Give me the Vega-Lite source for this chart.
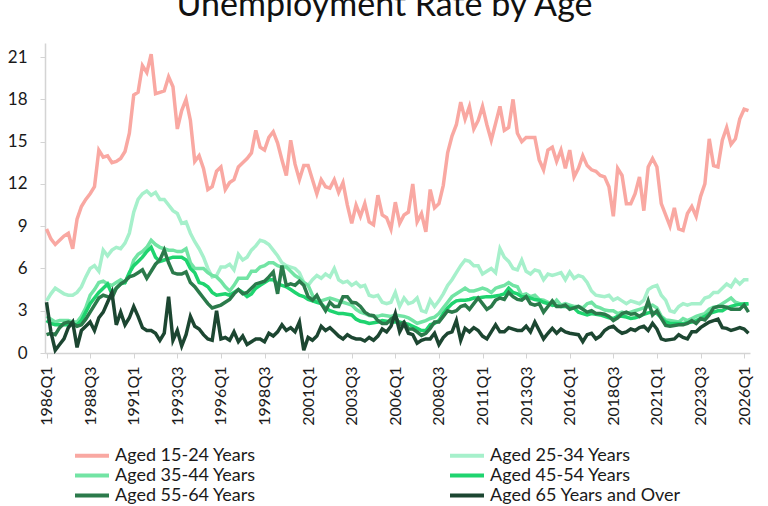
{
  "$schema": "https://vega.github.io/schema/vega-lite/v6.json",
  "description": "Unemployment rate by age group, quarterly",
  "width": 705,
  "height": 310,
  "autosize": {"type": "none"},
  "padding": {"left": 45, "top": 43, "right": 18, "bottom": 153},
  "background": "#ffffff",
  "config": {"view": {"stroke": null}, "font": "Lato"},
  "title": {
    "text": "Unemployment Rate by Age",
    "fontSize": 34,
    "fontWeight": "normal",
    "color": "#111111",
    "anchor": "middle",
    "dx": -13,
    "offset": -7,
    "baseline": "alphabetic"
  },
  "data": {
    "values": [
      {"quarter":"1986Q1","age":"Aged 15-24 Years","rate":8.8},{"quarter":"1986Q2","age":"Aged 15-24 Years","rate":8.1},{"quarter":"1986Q3","age":"Aged 15-24 Years","rate":7.7},{"quarter":"1986Q4","age":"Aged 15-24 Years","rate":8.0},
      {"quarter":"1987Q1","age":"Aged 15-24 Years","rate":8.3},{"quarter":"1987Q2","age":"Aged 15-24 Years","rate":8.5},{"quarter":"1987Q3","age":"Aged 15-24 Years","rate":7.4},{"quarter":"1987Q4","age":"Aged 15-24 Years","rate":9.5},
      {"quarter":"1988Q1","age":"Aged 15-24 Years","rate":10.4},{"quarter":"1988Q2","age":"Aged 15-24 Years","rate":10.9},{"quarter":"1988Q3","age":"Aged 15-24 Years","rate":11.3},{"quarter":"1988Q4","age":"Aged 15-24 Years","rate":11.8},
      {"quarter":"1989Q1","age":"Aged 15-24 Years","rate":14.4},{"quarter":"1989Q2","age":"Aged 15-24 Years","rate":13.9},{"quarter":"1989Q3","age":"Aged 15-24 Years","rate":14.0},{"quarter":"1989Q4","age":"Aged 15-24 Years","rate":13.5},
      {"quarter":"1990Q1","age":"Aged 15-24 Years","rate":13.6},{"quarter":"1990Q2","age":"Aged 15-24 Years","rate":13.8},{"quarter":"1990Q3","age":"Aged 15-24 Years","rate":14.3},{"quarter":"1990Q4","age":"Aged 15-24 Years","rate":15.6},
      {"quarter":"1991Q1","age":"Aged 15-24 Years","rate":18.3},{"quarter":"1991Q2","age":"Aged 15-24 Years","rate":18.5},{"quarter":"1991Q3","age":"Aged 15-24 Years","rate":20.4},{"quarter":"1991Q4","age":"Aged 15-24 Years","rate":19.9},
      {"quarter":"1992Q1","age":"Aged 15-24 Years","rate":21.2},{"quarter":"1992Q2","age":"Aged 15-24 Years","rate":18.4},{"quarter":"1992Q3","age":"Aged 15-24 Years","rate":18.5},{"quarter":"1992Q4","age":"Aged 15-24 Years","rate":18.6},
      {"quarter":"1993Q1","age":"Aged 15-24 Years","rate":19.6},{"quarter":"1993Q2","age":"Aged 15-24 Years","rate":18.9},{"quarter":"1993Q3","age":"Aged 15-24 Years","rate":15.9},{"quarter":"1993Q4","age":"Aged 15-24 Years","rate":17.2},
      {"quarter":"1994Q1","age":"Aged 15-24 Years","rate":18.0},{"quarter":"1994Q2","age":"Aged 15-24 Years","rate":16.5},{"quarter":"1994Q3","age":"Aged 15-24 Years","rate":13.6},{"quarter":"1994Q4","age":"Aged 15-24 Years","rate":14.0},
      {"quarter":"1995Q1","age":"Aged 15-24 Years","rate":13.1},{"quarter":"1995Q2","age":"Aged 15-24 Years","rate":11.6},{"quarter":"1995Q3","age":"Aged 15-24 Years","rate":11.8},{"quarter":"1995Q4","age":"Aged 15-24 Years","rate":12.9},
      {"quarter":"1996Q1","age":"Aged 15-24 Years","rate":13.2},{"quarter":"1996Q2","age":"Aged 15-24 Years","rate":11.6},{"quarter":"1996Q3","age":"Aged 15-24 Years","rate":12.1},{"quarter":"1996Q4","age":"Aged 15-24 Years","rate":12.3},
      {"quarter":"1997Q1","age":"Aged 15-24 Years","rate":13.2},{"quarter":"1997Q2","age":"Aged 15-24 Years","rate":13.5},{"quarter":"1997Q3","age":"Aged 15-24 Years","rate":13.8},{"quarter":"1997Q4","age":"Aged 15-24 Years","rate":14.2},
      {"quarter":"1998Q1","age":"Aged 15-24 Years","rate":15.8},{"quarter":"1998Q2","age":"Aged 15-24 Years","rate":14.6},{"quarter":"1998Q3","age":"Aged 15-24 Years","rate":14.4},{"quarter":"1998Q4","age":"Aged 15-24 Years","rate":15.3},
      {"quarter":"1999Q1","age":"Aged 15-24 Years","rate":15.7},{"quarter":"1999Q2","age":"Aged 15-24 Years","rate":14.9},{"quarter":"1999Q3","age":"Aged 15-24 Years","rate":13.7},{"quarter":"1999Q4","age":"Aged 15-24 Years","rate":12.6},
      {"quarter":"2000Q1","age":"Aged 15-24 Years","rate":15.1},{"quarter":"2000Q2","age":"Aged 15-24 Years","rate":13.4},{"quarter":"2000Q3","age":"Aged 15-24 Years","rate":12.3},{"quarter":"2000Q4","age":"Aged 15-24 Years","rate":13.3},
      {"quarter":"2001Q1","age":"Aged 15-24 Years","rate":13.3},{"quarter":"2001Q2","age":"Aged 15-24 Years","rate":12.3},{"quarter":"2001Q3","age":"Aged 15-24 Years","rate":11.3},{"quarter":"2001Q4","age":"Aged 15-24 Years","rate":12.3},
      {"quarter":"2002Q1","age":"Aged 15-24 Years","rate":11.8},{"quarter":"2002Q2","age":"Aged 15-24 Years","rate":11.7},{"quarter":"2002Q3","age":"Aged 15-24 Years","rate":12.3},{"quarter":"2002Q4","age":"Aged 15-24 Years","rate":11.4},
      {"quarter":"2003Q1","age":"Aged 15-24 Years","rate":12.1},{"quarter":"2003Q2","age":"Aged 15-24 Years","rate":10.5},{"quarter":"2003Q3","age":"Aged 15-24 Years","rate":9.2},{"quarter":"2003Q4","age":"Aged 15-24 Years","rate":10.5},
      {"quarter":"2004Q1","age":"Aged 15-24 Years","rate":9.7},{"quarter":"2004Q2","age":"Aged 15-24 Years","rate":10.6},{"quarter":"2004Q3","age":"Aged 15-24 Years","rate":9.3},{"quarter":"2004Q4","age":"Aged 15-24 Years","rate":9.1},
      {"quarter":"2005Q1","age":"Aged 15-24 Years","rate":11.2},{"quarter":"2005Q2","age":"Aged 15-24 Years","rate":9.8},{"quarter":"2005Q3","age":"Aged 15-24 Years","rate":9.6},{"quarter":"2005Q4","age":"Aged 15-24 Years","rate":8.8},
      {"quarter":"2006Q1","age":"Aged 15-24 Years","rate":10.7},{"quarter":"2006Q2","age":"Aged 15-24 Years","rate":9.2},{"quarter":"2006Q3","age":"Aged 15-24 Years","rate":9.8},{"quarter":"2006Q4","age":"Aged 15-24 Years","rate":10.0},
      {"quarter":"2007Q1","age":"Aged 15-24 Years","rate":12.0},{"quarter":"2007Q2","age":"Aged 15-24 Years","rate":9.3},{"quarter":"2007Q3","age":"Aged 15-24 Years","rate":9.9},{"quarter":"2007Q4","age":"Aged 15-24 Years","rate":8.6},
      {"quarter":"2008Q1","age":"Aged 15-24 Years","rate":11.6},{"quarter":"2008Q2","age":"Aged 15-24 Years","rate":10.3},{"quarter":"2008Q3","age":"Aged 15-24 Years","rate":10.6},{"quarter":"2008Q4","age":"Aged 15-24 Years","rate":11.9},
      {"quarter":"2009Q1","age":"Aged 15-24 Years","rate":14.2},{"quarter":"2009Q2","age":"Aged 15-24 Years","rate":15.4},{"quarter":"2009Q3","age":"Aged 15-24 Years","rate":16.2},{"quarter":"2009Q4","age":"Aged 15-24 Years","rate":17.8},
      {"quarter":"2010Q1","age":"Aged 15-24 Years","rate":16.6},{"quarter":"2010Q2","age":"Aged 15-24 Years","rate":17.5},{"quarter":"2010Q3","age":"Aged 15-24 Years","rate":15.9},{"quarter":"2010Q4","age":"Aged 15-24 Years","rate":16.5},
      {"quarter":"2011Q1","age":"Aged 15-24 Years","rate":17.5},{"quarter":"2011Q2","age":"Aged 15-24 Years","rate":16.2},{"quarter":"2011Q3","age":"Aged 15-24 Years","rate":15.1},{"quarter":"2011Q4","age":"Aged 15-24 Years","rate":16.3},
      {"quarter":"2012Q1","age":"Aged 15-24 Years","rate":17.5},{"quarter":"2012Q2","age":"Aged 15-24 Years","rate":15.8},{"quarter":"2012Q3","age":"Aged 15-24 Years","rate":16.0},{"quarter":"2012Q4","age":"Aged 15-24 Years","rate":18.0},
      {"quarter":"2013Q1","age":"Aged 15-24 Years","rate":15.6},{"quarter":"2013Q2","age":"Aged 15-24 Years","rate":15.0},{"quarter":"2013Q3","age":"Aged 15-24 Years","rate":15.3},{"quarter":"2013Q4","age":"Aged 15-24 Years","rate":15.3},
      {"quarter":"2014Q1","age":"Aged 15-24 Years","rate":15.3},{"quarter":"2014Q2","age":"Aged 15-24 Years","rate":13.7},{"quarter":"2014Q3","age":"Aged 15-24 Years","rate":13.0},{"quarter":"2014Q4","age":"Aged 15-24 Years","rate":14.4},
      {"quarter":"2015Q1","age":"Aged 15-24 Years","rate":14.6},{"quarter":"2015Q2","age":"Aged 15-24 Years","rate":13.6},{"quarter":"2015Q3","age":"Aged 15-24 Years","rate":14.4},{"quarter":"2015Q4","age":"Aged 15-24 Years","rate":13.1},
      {"quarter":"2016Q1","age":"Aged 15-24 Years","rate":14.4},{"quarter":"2016Q2","age":"Aged 15-24 Years","rate":12.5},{"quarter":"2016Q3","age":"Aged 15-24 Years","rate":13.1},{"quarter":"2016Q4","age":"Aged 15-24 Years","rate":14.0},
      {"quarter":"2017Q1","age":"Aged 15-24 Years","rate":13.3},{"quarter":"2017Q2","age":"Aged 15-24 Years","rate":13.0},{"quarter":"2017Q3","age":"Aged 15-24 Years","rate":12.9},{"quarter":"2017Q4","age":"Aged 15-24 Years","rate":12.6},
      {"quarter":"2018Q1","age":"Aged 15-24 Years","rate":12.5},{"quarter":"2018Q2","age":"Aged 15-24 Years","rate":11.8},{"quarter":"2018Q3","age":"Aged 15-24 Years","rate":9.7},{"quarter":"2018Q4","age":"Aged 15-24 Years","rate":13.1},
      {"quarter":"2019Q1","age":"Aged 15-24 Years","rate":12.6},{"quarter":"2019Q2","age":"Aged 15-24 Years","rate":10.6},{"quarter":"2019Q3","age":"Aged 15-24 Years","rate":10.6},{"quarter":"2019Q4","age":"Aged 15-24 Years","rate":11.3},
      {"quarter":"2020Q1","age":"Aged 15-24 Years","rate":12.5},{"quarter":"2020Q2","age":"Aged 15-24 Years","rate":10.1},{"quarter":"2020Q3","age":"Aged 15-24 Years","rate":13.2},{"quarter":"2020Q4","age":"Aged 15-24 Years","rate":13.8},
      {"quarter":"2021Q1","age":"Aged 15-24 Years","rate":13.2},{"quarter":"2021Q2","age":"Aged 15-24 Years","rate":10.6},{"quarter":"2021Q3","age":"Aged 15-24 Years","rate":9.8},{"quarter":"2021Q4","age":"Aged 15-24 Years","rate":9.0},
      {"quarter":"2022Q1","age":"Aged 15-24 Years","rate":10.3},{"quarter":"2022Q2","age":"Aged 15-24 Years","rate":8.8},{"quarter":"2022Q3","age":"Aged 15-24 Years","rate":8.7},{"quarter":"2022Q4","age":"Aged 15-24 Years","rate":9.9},
      {"quarter":"2023Q1","age":"Aged 15-24 Years","rate":10.4},{"quarter":"2023Q2","age":"Aged 15-24 Years","rate":9.7},{"quarter":"2023Q3","age":"Aged 15-24 Years","rate":11.1},{"quarter":"2023Q4","age":"Aged 15-24 Years","rate":12.0},
      {"quarter":"2024Q1","age":"Aged 15-24 Years","rate":15.2},{"quarter":"2024Q2","age":"Aged 15-24 Years","rate":13.3},{"quarter":"2024Q3","age":"Aged 15-24 Years","rate":13.2},{"quarter":"2024Q4","age":"Aged 15-24 Years","rate":15.1},
      {"quarter":"2025Q1","age":"Aged 15-24 Years","rate":16.0},{"quarter":"2025Q2","age":"Aged 15-24 Years","rate":14.8},{"quarter":"2025Q3","age":"Aged 15-24 Years","rate":15.2},{"quarter":"2025Q4","age":"Aged 15-24 Years","rate":16.6},
      {"quarter":"2026Q1","age":"Aged 15-24 Years","rate":17.3},{"quarter":"2026Q2","age":"Aged 15-24 Years","rate":17.2},

      {"quarter":"1986Q1","age":"Aged 25-34 Years","rate":3.7},{"quarter":"1986Q2","age":"Aged 25-34 Years","rate":4.2},{"quarter":"1986Q3","age":"Aged 25-34 Years","rate":4.6},{"quarter":"1986Q4","age":"Aged 25-34 Years","rate":4.4},
      {"quarter":"1987Q1","age":"Aged 25-34 Years","rate":4.2},{"quarter":"1987Q2","age":"Aged 25-34 Years","rate":4.1},{"quarter":"1987Q3","age":"Aged 25-34 Years","rate":4.1},{"quarter":"1987Q4","age":"Aged 25-34 Years","rate":4.3},
      {"quarter":"1988Q1","age":"Aged 25-34 Years","rate":4.7},{"quarter":"1988Q2","age":"Aged 25-34 Years","rate":5.4},{"quarter":"1988Q3","age":"Aged 25-34 Years","rate":6.0},{"quarter":"1988Q4","age":"Aged 25-34 Years","rate":6.2},
      {"quarter":"1989Q1","age":"Aged 25-34 Years","rate":5.8},{"quarter":"1989Q2","age":"Aged 25-34 Years","rate":7.3},{"quarter":"1989Q3","age":"Aged 25-34 Years","rate":6.9},{"quarter":"1989Q4","age":"Aged 25-34 Years","rate":7.3},
      {"quarter":"1990Q1","age":"Aged 25-34 Years","rate":7.5},{"quarter":"1990Q2","age":"Aged 25-34 Years","rate":7.4},{"quarter":"1990Q3","age":"Aged 25-34 Years","rate":7.8},{"quarter":"1990Q4","age":"Aged 25-34 Years","rate":8.5},
      {"quarter":"1991Q1","age":"Aged 25-34 Years","rate":10.0},{"quarter":"1991Q2","age":"Aged 25-34 Years","rate":10.9},{"quarter":"1991Q3","age":"Aged 25-34 Years","rate":11.3},{"quarter":"1991Q4","age":"Aged 25-34 Years","rate":11.5},
      {"quarter":"1992Q1","age":"Aged 25-34 Years","rate":11.2},{"quarter":"1992Q2","age":"Aged 25-34 Years","rate":11.4},{"quarter":"1992Q3","age":"Aged 25-34 Years","rate":10.9},{"quarter":"1992Q4","age":"Aged 25-34 Years","rate":10.9},
      {"quarter":"1993Q1","age":"Aged 25-34 Years","rate":10.5},{"quarter":"1993Q2","age":"Aged 25-34 Years","rate":10.1},{"quarter":"1993Q3","age":"Aged 25-34 Years","rate":9.9},{"quarter":"1993Q4","age":"Aged 25-34 Years","rate":9.2},
      {"quarter":"1994Q1","age":"Aged 25-34 Years","rate":9.3},{"quarter":"1994Q2","age":"Aged 25-34 Years","rate":8.5},{"quarter":"1994Q3","age":"Aged 25-34 Years","rate":7.9},{"quarter":"1994Q4","age":"Aged 25-34 Years","rate":7.4},
      {"quarter":"1995Q1","age":"Aged 25-34 Years","rate":6.8},{"quarter":"1995Q2","age":"Aged 25-34 Years","rate":6.0},{"quarter":"1995Q3","age":"Aged 25-34 Years","rate":5.4},{"quarter":"1995Q4","age":"Aged 25-34 Years","rate":5.5},
      {"quarter":"1996Q1","age":"Aged 25-34 Years","rate":6.1},{"quarter":"1996Q2","age":"Aged 25-34 Years","rate":6.1},{"quarter":"1996Q3","age":"Aged 25-34 Years","rate":6.3},{"quarter":"1996Q4","age":"Aged 25-34 Years","rate":5.9},
      {"quarter":"1997Q1","age":"Aged 25-34 Years","rate":7.0},{"quarter":"1997Q2","age":"Aged 25-34 Years","rate":6.6},{"quarter":"1997Q3","age":"Aged 25-34 Years","rate":6.8},{"quarter":"1997Q4","age":"Aged 25-34 Years","rate":7.3},
      {"quarter":"1998Q1","age":"Aged 25-34 Years","rate":7.6},{"quarter":"1998Q2","age":"Aged 25-34 Years","rate":8.0},{"quarter":"1998Q3","age":"Aged 25-34 Years","rate":7.9},{"quarter":"1998Q4","age":"Aged 25-34 Years","rate":7.7},
      {"quarter":"1999Q1","age":"Aged 25-34 Years","rate":7.3},{"quarter":"1999Q2","age":"Aged 25-34 Years","rate":6.9},{"quarter":"1999Q3","age":"Aged 25-34 Years","rate":6.4},{"quarter":"1999Q4","age":"Aged 25-34 Years","rate":6.2},
      {"quarter":"2000Q1","age":"Aged 25-34 Years","rate":6.1},{"quarter":"2000Q2","age":"Aged 25-34 Years","rate":6.0},{"quarter":"2000Q3","age":"Aged 25-34 Years","rate":5.7},{"quarter":"2000Q4","age":"Aged 25-34 Years","rate":5.0},
      {"quarter":"2001Q1","age":"Aged 25-34 Years","rate":4.8},{"quarter":"2001Q2","age":"Aged 25-34 Years","rate":5.2},{"quarter":"2001Q3","age":"Aged 25-34 Years","rate":5.5},{"quarter":"2001Q4","age":"Aged 25-34 Years","rate":5.3},
      {"quarter":"2002Q1","age":"Aged 25-34 Years","rate":5.6},{"quarter":"2002Q2","age":"Aged 25-34 Years","rate":5.4},{"quarter":"2002Q3","age":"Aged 25-34 Years","rate":6.0},{"quarter":"2002Q4","age":"Aged 25-34 Years","rate":5.2},
      {"quarter":"2003Q1","age":"Aged 25-34 Years","rate":5.0},{"quarter":"2003Q2","age":"Aged 25-34 Years","rate":5.1},{"quarter":"2003Q3","age":"Aged 25-34 Years","rate":4.8},{"quarter":"2003Q4","age":"Aged 25-34 Years","rate":5.0},
      {"quarter":"2004Q1","age":"Aged 25-34 Years","rate":4.7},{"quarter":"2004Q2","age":"Aged 25-34 Years","rate":4.8},{"quarter":"2004Q3","age":"Aged 25-34 Years","rate":4.1},{"quarter":"2004Q4","age":"Aged 25-34 Years","rate":4.0},
      {"quarter":"2005Q1","age":"Aged 25-34 Years","rate":4.1},{"quarter":"2005Q2","age":"Aged 25-34 Years","rate":3.6},{"quarter":"2005Q3","age":"Aged 25-34 Years","rate":3.5},{"quarter":"2005Q4","age":"Aged 25-34 Years","rate":3.6},
      {"quarter":"2006Q1","age":"Aged 25-34 Years","rate":4.3},{"quarter":"2006Q2","age":"Aged 25-34 Years","rate":3.3},{"quarter":"2006Q3","age":"Aged 25-34 Years","rate":3.9},{"quarter":"2006Q4","age":"Aged 25-34 Years","rate":3.5},
      {"quarter":"2007Q1","age":"Aged 25-34 Years","rate":3.6},{"quarter":"2007Q2","age":"Aged 25-34 Years","rate":3.9},{"quarter":"2007Q3","age":"Aged 25-34 Years","rate":3.0},{"quarter":"2007Q4","age":"Aged 25-34 Years","rate":2.9},
      {"quarter":"2008Q1","age":"Aged 25-34 Years","rate":3.75},{"quarter":"2008Q2","age":"Aged 25-34 Years","rate":3.3},{"quarter":"2008Q3","age":"Aged 25-34 Years","rate":3.7},{"quarter":"2008Q4","age":"Aged 25-34 Years","rate":4.2},
      {"quarter":"2009Q1","age":"Aged 25-34 Years","rate":4.8},{"quarter":"2009Q2","age":"Aged 25-34 Years","rate":5.2},{"quarter":"2009Q3","age":"Aged 25-34 Years","rate":5.7},{"quarter":"2009Q4","age":"Aged 25-34 Years","rate":6.2},
      {"quarter":"2010Q1","age":"Aged 25-34 Years","rate":6.6},{"quarter":"2010Q2","age":"Aged 25-34 Years","rate":6.5},{"quarter":"2010Q3","age":"Aged 25-34 Years","rate":6.2},{"quarter":"2010Q4","age":"Aged 25-34 Years","rate":6.2},
      {"quarter":"2011Q1","age":"Aged 25-34 Years","rate":5.6},{"quarter":"2011Q2","age":"Aged 25-34 Years","rate":5.8},{"quarter":"2011Q3","age":"Aged 25-34 Years","rate":6.0},{"quarter":"2011Q4","age":"Aged 25-34 Years","rate":5.7},
      {"quarter":"2012Q1","age":"Aged 25-34 Years","rate":7.4},{"quarter":"2012Q2","age":"Aged 25-34 Years","rate":6.8},{"quarter":"2012Q3","age":"Aged 25-34 Years","rate":6.5},{"quarter":"2012Q4","age":"Aged 25-34 Years","rate":6.0},
      {"quarter":"2013Q1","age":"Aged 25-34 Years","rate":5.9},{"quarter":"2013Q2","age":"Aged 25-34 Years","rate":6.6},{"quarter":"2013Q3","age":"Aged 25-34 Years","rate":5.8},{"quarter":"2013Q4","age":"Aged 25-34 Years","rate":5.6},
      {"quarter":"2014Q1","age":"Aged 25-34 Years","rate":5.9},{"quarter":"2014Q2","age":"Aged 25-34 Years","rate":5.8},{"quarter":"2014Q3","age":"Aged 25-34 Years","rate":5.2},{"quarter":"2014Q4","age":"Aged 25-34 Years","rate":5.6},
      {"quarter":"2015Q1","age":"Aged 25-34 Years","rate":5.5},{"quarter":"2015Q2","age":"Aged 25-34 Years","rate":5.6},{"quarter":"2015Q3","age":"Aged 25-34 Years","rate":5.7},{"quarter":"2015Q4","age":"Aged 25-34 Years","rate":5.2},
      {"quarter":"2016Q1","age":"Aged 25-34 Years","rate":5.75},{"quarter":"2016Q2","age":"Aged 25-34 Years","rate":5.3},{"quarter":"2016Q3","age":"Aged 25-34 Years","rate":5.5},{"quarter":"2016Q4","age":"Aged 25-34 Years","rate":5.4},
      {"quarter":"2017Q1","age":"Aged 25-34 Years","rate":5.0},{"quarter":"2017Q2","age":"Aged 25-34 Years","rate":4.4},{"quarter":"2017Q3","age":"Aged 25-34 Years","rate":4.1},{"quarter":"2017Q4","age":"Aged 25-34 Years","rate":4.05},
      {"quarter":"2018Q1","age":"Aged 25-34 Years","rate":4.0},{"quarter":"2018Q2","age":"Aged 25-34 Years","rate":4.1},{"quarter":"2018Q3","age":"Aged 25-34 Years","rate":3.75},{"quarter":"2018Q4","age":"Aged 25-34 Years","rate":3.9},
      {"quarter":"2019Q1","age":"Aged 25-34 Years","rate":3.7},{"quarter":"2019Q2","age":"Aged 25-34 Years","rate":3.5},{"quarter":"2019Q3","age":"Aged 25-34 Years","rate":3.7},{"quarter":"2019Q4","age":"Aged 25-34 Years","rate":3.6},
      {"quarter":"2020Q1","age":"Aged 25-34 Years","rate":3.5},{"quarter":"2020Q2","age":"Aged 25-34 Years","rate":3.75},{"quarter":"2020Q3","age":"Aged 25-34 Years","rate":4.5},{"quarter":"2020Q4","age":"Aged 25-34 Years","rate":4.7},
      {"quarter":"2021Q1","age":"Aged 25-34 Years","rate":4.8},{"quarter":"2021Q2","age":"Aged 25-34 Years","rate":4.1},{"quarter":"2021Q3","age":"Aged 25-34 Years","rate":3.75},{"quarter":"2021Q4","age":"Aged 25-34 Years","rate":3.0},
      {"quarter":"2022Q1","age":"Aged 25-34 Years","rate":2.9},{"quarter":"2022Q2","age":"Aged 25-34 Years","rate":3.3},{"quarter":"2022Q3","age":"Aged 25-34 Years","rate":3.5},{"quarter":"2022Q4","age":"Aged 25-34 Years","rate":3.4},
      {"quarter":"2023Q1","age":"Aged 25-34 Years","rate":3.5},{"quarter":"2023Q2","age":"Aged 25-34 Years","rate":3.5},{"quarter":"2023Q3","age":"Aged 25-34 Years","rate":3.5},{"quarter":"2023Q4","age":"Aged 25-34 Years","rate":3.9},
      {"quarter":"2024Q1","age":"Aged 25-34 Years","rate":4.0},{"quarter":"2024Q2","age":"Aged 25-34 Years","rate":4.3},{"quarter":"2024Q3","age":"Aged 25-34 Years","rate":4.3},{"quarter":"2024Q4","age":"Aged 25-34 Years","rate":4.6},
      {"quarter":"2025Q1","age":"Aged 25-34 Years","rate":4.9},{"quarter":"2025Q2","age":"Aged 25-34 Years","rate":4.7},{"quarter":"2025Q3","age":"Aged 25-34 Years","rate":5.2},{"quarter":"2025Q4","age":"Aged 25-34 Years","rate":4.9},
      {"quarter":"2026Q1","age":"Aged 25-34 Years","rate":5.2},{"quarter":"2026Q2","age":"Aged 25-34 Years","rate":5.2},

      {"quarter":"1986Q1","age":"Aged 35-44 Years","rate":2.6},{"quarter":"1986Q2","age":"Aged 35-44 Years","rate":2.4},{"quarter":"1986Q3","age":"Aged 35-44 Years","rate":2.2},{"quarter":"1986Q4","age":"Aged 35-44 Years","rate":2.3},
      {"quarter":"1987Q1","age":"Aged 35-44 Years","rate":2.3},{"quarter":"1987Q2","age":"Aged 35-44 Years","rate":2.3},{"quarter":"1987Q3","age":"Aged 35-44 Years","rate":2.2},{"quarter":"1987Q4","age":"Aged 35-44 Years","rate":2.2},
      {"quarter":"1988Q1","age":"Aged 35-44 Years","rate":2.6},{"quarter":"1988Q2","age":"Aged 35-44 Years","rate":3.2},{"quarter":"1988Q3","age":"Aged 35-44 Years","rate":4.1},{"quarter":"1988Q4","age":"Aged 35-44 Years","rate":4.5},
      {"quarter":"1989Q1","age":"Aged 35-44 Years","rate":5.0},{"quarter":"1989Q2","age":"Aged 35-44 Years","rate":5.1},{"quarter":"1989Q3","age":"Aged 35-44 Years","rate":4.9},{"quarter":"1989Q4","age":"Aged 35-44 Years","rate":4.8},
      {"quarter":"1990Q1","age":"Aged 35-44 Years","rate":5.0},{"quarter":"1990Q2","age":"Aged 35-44 Years","rate":5.2},{"quarter":"1990Q3","age":"Aged 35-44 Years","rate":5.0},{"quarter":"1990Q4","age":"Aged 35-44 Years","rate":5.6},
      {"quarter":"1991Q1","age":"Aged 35-44 Years","rate":6.6},{"quarter":"1991Q2","age":"Aged 35-44 Years","rate":7.0},{"quarter":"1991Q3","age":"Aged 35-44 Years","rate":7.2},{"quarter":"1991Q4","age":"Aged 35-44 Years","rate":7.5},
      {"quarter":"1992Q1","age":"Aged 35-44 Years","rate":8.0},{"quarter":"1992Q2","age":"Aged 35-44 Years","rate":7.7},{"quarter":"1992Q3","age":"Aged 35-44 Years","rate":7.5},{"quarter":"1992Q4","age":"Aged 35-44 Years","rate":7.4},
      {"quarter":"1993Q1","age":"Aged 35-44 Years","rate":7.3},{"quarter":"1993Q2","age":"Aged 35-44 Years","rate":7.3},{"quarter":"1993Q3","age":"Aged 35-44 Years","rate":7.2},{"quarter":"1993Q4","age":"Aged 35-44 Years","rate":7.2},
      {"quarter":"1994Q1","age":"Aged 35-44 Years","rate":7.4},{"quarter":"1994Q2","age":"Aged 35-44 Years","rate":6.4},{"quarter":"1994Q3","age":"Aged 35-44 Years","rate":6.0},{"quarter":"1994Q4","age":"Aged 35-44 Years","rate":6.0},
      {"quarter":"1995Q1","age":"Aged 35-44 Years","rate":6.0},{"quarter":"1995Q2","age":"Aged 35-44 Years","rate":5.7},{"quarter":"1995Q3","age":"Aged 35-44 Years","rate":5.5},{"quarter":"1995Q4","age":"Aged 35-44 Years","rate":5.4},
      {"quarter":"1996Q1","age":"Aged 35-44 Years","rate":5.1},{"quarter":"1996Q2","age":"Aged 35-44 Years","rate":4.7},{"quarter":"1996Q3","age":"Aged 35-44 Years","rate":4.4},{"quarter":"1996Q4","age":"Aged 35-44 Years","rate":4.8},
      {"quarter":"1997Q1","age":"Aged 35-44 Years","rate":5.3},{"quarter":"1997Q2","age":"Aged 35-44 Years","rate":5.3},{"quarter":"1997Q3","age":"Aged 35-44 Years","rate":5.3},{"quarter":"1997Q4","age":"Aged 35-44 Years","rate":5.8},
      {"quarter":"1998Q1","age":"Aged 35-44 Years","rate":5.8},{"quarter":"1998Q2","age":"Aged 35-44 Years","rate":6.1},{"quarter":"1998Q3","age":"Aged 35-44 Years","rate":6.2},{"quarter":"1998Q4","age":"Aged 35-44 Years","rate":6.4},
      {"quarter":"1999Q1","age":"Aged 35-44 Years","rate":6.4},{"quarter":"1999Q2","age":"Aged 35-44 Years","rate":6.2},{"quarter":"1999Q3","age":"Aged 35-44 Years","rate":6.1},{"quarter":"1999Q4","age":"Aged 35-44 Years","rate":6.1},
      {"quarter":"2000Q1","age":"Aged 35-44 Years","rate":5.8},{"quarter":"2000Q2","age":"Aged 35-44 Years","rate":5.5},{"quarter":"2000Q3","age":"Aged 35-44 Years","rate":5.3},{"quarter":"2000Q4","age":"Aged 35-44 Years","rate":5.0},
      {"quarter":"2001Q1","age":"Aged 35-44 Years","rate":4.8},{"quarter":"2001Q2","age":"Aged 35-44 Years","rate":4.1},{"quarter":"2001Q3","age":"Aged 35-44 Years","rate":3.7},{"quarter":"2001Q4","age":"Aged 35-44 Years","rate":3.7},
      {"quarter":"2002Q1","age":"Aged 35-44 Years","rate":3.8},{"quarter":"2002Q2","age":"Aged 35-44 Years","rate":3.9},{"quarter":"2002Q3","age":"Aged 35-44 Years","rate":3.8},{"quarter":"2002Q4","age":"Aged 35-44 Years","rate":3.7},
      {"quarter":"2003Q1","age":"Aged 35-44 Years","rate":3.6},{"quarter":"2003Q2","age":"Aged 35-44 Years","rate":3.5},{"quarter":"2003Q3","age":"Aged 35-44 Years","rate":3.4},{"quarter":"2003Q4","age":"Aged 35-44 Years","rate":3.1},
      {"quarter":"2004Q1","age":"Aged 35-44 Years","rate":2.9},{"quarter":"2004Q2","age":"Aged 35-44 Years","rate":2.8},{"quarter":"2004Q3","age":"Aged 35-44 Years","rate":2.65},{"quarter":"2004Q4","age":"Aged 35-44 Years","rate":2.6},
      {"quarter":"2005Q1","age":"Aged 35-44 Years","rate":2.6},{"quarter":"2005Q2","age":"Aged 35-44 Years","rate":2.7},{"quarter":"2005Q3","age":"Aged 35-44 Years","rate":2.65},{"quarter":"2005Q4","age":"Aged 35-44 Years","rate":2.6},
      {"quarter":"2006Q1","age":"Aged 35-44 Years","rate":2.7},{"quarter":"2006Q2","age":"Aged 35-44 Years","rate":2.65},{"quarter":"2006Q3","age":"Aged 35-44 Years","rate":2.6},{"quarter":"2006Q4","age":"Aged 35-44 Years","rate":2.5},
      {"quarter":"2007Q1","age":"Aged 35-44 Years","rate":2.3},{"quarter":"2007Q2","age":"Aged 35-44 Years","rate":2.1},{"quarter":"2007Q3","age":"Aged 35-44 Years","rate":2.2},{"quarter":"2007Q4","age":"Aged 35-44 Years","rate":2.3},
      {"quarter":"2008Q1","age":"Aged 35-44 Years","rate":2.45},{"quarter":"2008Q2","age":"Aged 35-44 Years","rate":2.55},{"quarter":"2008Q3","age":"Aged 35-44 Years","rate":2.8},{"quarter":"2008Q4","age":"Aged 35-44 Years","rate":3.2},
      {"quarter":"2009Q1","age":"Aged 35-44 Years","rate":3.6},{"quarter":"2009Q2","age":"Aged 35-44 Years","rate":4.0},{"quarter":"2009Q3","age":"Aged 35-44 Years","rate":4.2},{"quarter":"2009Q4","age":"Aged 35-44 Years","rate":4.4},
      {"quarter":"2010Q1","age":"Aged 35-44 Years","rate":4.6},{"quarter":"2010Q2","age":"Aged 35-44 Years","rate":4.4},{"quarter":"2010Q3","age":"Aged 35-44 Years","rate":4.4},{"quarter":"2010Q4","age":"Aged 35-44 Years","rate":4.5},
      {"quarter":"2011Q1","age":"Aged 35-44 Years","rate":4.6},{"quarter":"2011Q2","age":"Aged 35-44 Years","rate":4.5},{"quarter":"2011Q3","age":"Aged 35-44 Years","rate":4.3},{"quarter":"2011Q4","age":"Aged 35-44 Years","rate":4.6},
      {"quarter":"2012Q1","age":"Aged 35-44 Years","rate":4.7},{"quarter":"2012Q2","age":"Aged 35-44 Years","rate":4.8},{"quarter":"2012Q3","age":"Aged 35-44 Years","rate":5.0},{"quarter":"2012Q4","age":"Aged 35-44 Years","rate":4.8},
      {"quarter":"2013Q1","age":"Aged 35-44 Years","rate":4.7},{"quarter":"2013Q2","age":"Aged 35-44 Years","rate":4.1},{"quarter":"2013Q3","age":"Aged 35-44 Years","rate":4.2},{"quarter":"2013Q4","age":"Aged 35-44 Years","rate":4.0},
      {"quarter":"2014Q1","age":"Aged 35-44 Years","rate":4.1},{"quarter":"2014Q2","age":"Aged 35-44 Years","rate":3.8},{"quarter":"2014Q3","age":"Aged 35-44 Years","rate":3.75},{"quarter":"2014Q4","age":"Aged 35-44 Years","rate":3.6},
      {"quarter":"2015Q1","age":"Aged 35-44 Years","rate":3.4},{"quarter":"2015Q2","age":"Aged 35-44 Years","rate":3.75},{"quarter":"2015Q3","age":"Aged 35-44 Years","rate":3.4},{"quarter":"2015Q4","age":"Aged 35-44 Years","rate":3.5},
      {"quarter":"2016Q1","age":"Aged 35-44 Years","rate":3.4},{"quarter":"2016Q2","age":"Aged 35-44 Years","rate":3.3},{"quarter":"2016Q3","age":"Aged 35-44 Years","rate":3.3},{"quarter":"2016Q4","age":"Aged 35-44 Years","rate":3.2},
      {"quarter":"2017Q1","age":"Aged 35-44 Years","rate":3.5},{"quarter":"2017Q2","age":"Aged 35-44 Years","rate":3.6},{"quarter":"2017Q3","age":"Aged 35-44 Years","rate":3.3},{"quarter":"2017Q4","age":"Aged 35-44 Years","rate":3.2},
      {"quarter":"2018Q1","age":"Aged 35-44 Years","rate":3.05},{"quarter":"2018Q2","age":"Aged 35-44 Years","rate":3.0},{"quarter":"2018Q3","age":"Aged 35-44 Years","rate":3.0},{"quarter":"2018Q4","age":"Aged 35-44 Years","rate":2.8},
      {"quarter":"2019Q1","age":"Aged 35-44 Years","rate":2.9},{"quarter":"2019Q2","age":"Aged 35-44 Years","rate":2.8},{"quarter":"2019Q3","age":"Aged 35-44 Years","rate":2.9},{"quarter":"2019Q4","age":"Aged 35-44 Years","rate":3.0},
      {"quarter":"2020Q1","age":"Aged 35-44 Years","rate":3.1},{"quarter":"2020Q2","age":"Aged 35-44 Years","rate":3.2},{"quarter":"2020Q3","age":"Aged 35-44 Years","rate":3.3},{"quarter":"2020Q4","age":"Aged 35-44 Years","rate":3.4},
      {"quarter":"2021Q1","age":"Aged 35-44 Years","rate":3.2},{"quarter":"2021Q2","age":"Aged 35-44 Years","rate":2.6},{"quarter":"2021Q3","age":"Aged 35-44 Years","rate":2.35},{"quarter":"2021Q4","age":"Aged 35-44 Years","rate":2.3},
      {"quarter":"2022Q1","age":"Aged 35-44 Years","rate":2.25},{"quarter":"2022Q2","age":"Aged 35-44 Years","rate":2.2},{"quarter":"2022Q3","age":"Aged 35-44 Years","rate":2.45},{"quarter":"2022Q4","age":"Aged 35-44 Years","rate":2.3},
      {"quarter":"2023Q1","age":"Aged 35-44 Years","rate":2.45},{"quarter":"2023Q2","age":"Aged 35-44 Years","rate":2.6},{"quarter":"2023Q3","age":"Aged 35-44 Years","rate":2.7},{"quarter":"2023Q4","age":"Aged 35-44 Years","rate":2.8},
      {"quarter":"2024Q1","age":"Aged 35-44 Years","rate":3.1},{"quarter":"2024Q2","age":"Aged 35-44 Years","rate":3.25},{"quarter":"2024Q3","age":"Aged 35-44 Years","rate":3.3},{"quarter":"2024Q4","age":"Aged 35-44 Years","rate":3.5},
      {"quarter":"2025Q1","age":"Aged 35-44 Years","rate":3.7},{"quarter":"2025Q2","age":"Aged 35-44 Years","rate":3.9},{"quarter":"2025Q3","age":"Aged 35-44 Years","rate":3.6},{"quarter":"2025Q4","age":"Aged 35-44 Years","rate":3.5},
      {"quarter":"2026Q1","age":"Aged 35-44 Years","rate":3.4},{"quarter":"2026Q2","age":"Aged 35-44 Years","rate":3.5},

      {"quarter":"1986Q1","age":"Aged 45-54 Years","rate":2.3},{"quarter":"1986Q2","age":"Aged 45-54 Years","rate":2.1},{"quarter":"1986Q3","age":"Aged 45-54 Years","rate":2.0},{"quarter":"1986Q4","age":"Aged 45-54 Years","rate":2.0},
      {"quarter":"1987Q1","age":"Aged 45-54 Years","rate":2.0},{"quarter":"1987Q2","age":"Aged 45-54 Years","rate":2.0},{"quarter":"1987Q3","age":"Aged 45-54 Years","rate":2.0},{"quarter":"1987Q4","age":"Aged 45-54 Years","rate":2.0},
      {"quarter":"1988Q1","age":"Aged 45-54 Years","rate":2.3},{"quarter":"1988Q2","age":"Aged 45-54 Years","rate":2.9},{"quarter":"1988Q3","age":"Aged 45-54 Years","rate":3.5},{"quarter":"1988Q4","age":"Aged 45-54 Years","rate":3.9},
      {"quarter":"1989Q1","age":"Aged 45-54 Years","rate":4.3},{"quarter":"1989Q2","age":"Aged 45-54 Years","rate":4.6},{"quarter":"1989Q3","age":"Aged 45-54 Years","rate":4.9},{"quarter":"1989Q4","age":"Aged 45-54 Years","rate":4.2},
      {"quarter":"1990Q1","age":"Aged 45-54 Years","rate":4.6},{"quarter":"1990Q2","age":"Aged 45-54 Years","rate":4.9},{"quarter":"1990Q3","age":"Aged 45-54 Years","rate":5.0},{"quarter":"1990Q4","age":"Aged 45-54 Years","rate":5.7},
      {"quarter":"1991Q1","age":"Aged 45-54 Years","rate":6.2},{"quarter":"1991Q2","age":"Aged 45-54 Years","rate":6.5},{"quarter":"1991Q3","age":"Aged 45-54 Years","rate":6.8},{"quarter":"1991Q4","age":"Aged 45-54 Years","rate":7.2},
      {"quarter":"1992Q1","age":"Aged 45-54 Years","rate":7.5},{"quarter":"1992Q2","age":"Aged 45-54 Years","rate":6.8},{"quarter":"1992Q3","age":"Aged 45-54 Years","rate":6.5},{"quarter":"1992Q4","age":"Aged 45-54 Years","rate":6.6},
      {"quarter":"1993Q1","age":"Aged 45-54 Years","rate":6.7},{"quarter":"1993Q2","age":"Aged 45-54 Years","rate":6.8},{"quarter":"1993Q3","age":"Aged 45-54 Years","rate":6.8},{"quarter":"1993Q4","age":"Aged 45-54 Years","rate":6.8},
      {"quarter":"1994Q1","age":"Aged 45-54 Years","rate":6.6},{"quarter":"1994Q2","age":"Aged 45-54 Years","rate":6.0},{"quarter":"1994Q3","age":"Aged 45-54 Years","rate":5.7},{"quarter":"1994Q4","age":"Aged 45-54 Years","rate":5.0},
      {"quarter":"1995Q1","age":"Aged 45-54 Years","rate":4.9},{"quarter":"1995Q2","age":"Aged 45-54 Years","rate":4.7},{"quarter":"1995Q3","age":"Aged 45-54 Years","rate":4.3},{"quarter":"1995Q4","age":"Aged 45-54 Years","rate":4.1},
      {"quarter":"1996Q1","age":"Aged 45-54 Years","rate":4.15},{"quarter":"1996Q2","age":"Aged 45-54 Years","rate":4.2},{"quarter":"1996Q3","age":"Aged 45-54 Years","rate":4.1},{"quarter":"1996Q4","age":"Aged 45-54 Years","rate":4.3},
      {"quarter":"1997Q1","age":"Aged 45-54 Years","rate":4.5},{"quarter":"1997Q2","age":"Aged 45-54 Years","rate":4.3},{"quarter":"1997Q3","age":"Aged 45-54 Years","rate":4.0},{"quarter":"1997Q4","age":"Aged 45-54 Years","rate":4.2},
      {"quarter":"1998Q1","age":"Aged 45-54 Years","rate":4.6},{"quarter":"1998Q2","age":"Aged 45-54 Years","rate":4.8},{"quarter":"1998Q3","age":"Aged 45-54 Years","rate":5.0},{"quarter":"1998Q4","age":"Aged 45-54 Years","rate":5.2},
      {"quarter":"1999Q1","age":"Aged 45-54 Years","rate":5.2},{"quarter":"1999Q2","age":"Aged 45-54 Years","rate":4.9},{"quarter":"1999Q3","age":"Aged 45-54 Years","rate":4.8},{"quarter":"1999Q4","age":"Aged 45-54 Years","rate":4.7},
      {"quarter":"2000Q1","age":"Aged 45-54 Years","rate":4.5},{"quarter":"2000Q2","age":"Aged 45-54 Years","rate":4.3},{"quarter":"2000Q3","age":"Aged 45-54 Years","rate":4.1},{"quarter":"2000Q4","age":"Aged 45-54 Years","rate":4.0},
      {"quarter":"2001Q1","age":"Aged 45-54 Years","rate":3.8},{"quarter":"2001Q2","age":"Aged 45-54 Years","rate":3.7},{"quarter":"2001Q3","age":"Aged 45-54 Years","rate":3.6},{"quarter":"2001Q4","age":"Aged 45-54 Years","rate":3.5},
      {"quarter":"2002Q1","age":"Aged 45-54 Years","rate":3.2},{"quarter":"2002Q2","age":"Aged 45-54 Years","rate":3.0},{"quarter":"2002Q3","age":"Aged 45-54 Years","rate":2.9},{"quarter":"2002Q4","age":"Aged 45-54 Years","rate":2.8},
      {"quarter":"2003Q1","age":"Aged 45-54 Years","rate":2.8},{"quarter":"2003Q2","age":"Aged 45-54 Years","rate":2.75},{"quarter":"2003Q3","age":"Aged 45-54 Years","rate":2.7},{"quarter":"2003Q4","age":"Aged 45-54 Years","rate":2.4},
      {"quarter":"2004Q1","age":"Aged 45-54 Years","rate":2.25},{"quarter":"2004Q2","age":"Aged 45-54 Years","rate":2.2},{"quarter":"2004Q3","age":"Aged 45-54 Years","rate":2.1},{"quarter":"2004Q4","age":"Aged 45-54 Years","rate":2.15},
      {"quarter":"2005Q1","age":"Aged 45-54 Years","rate":2.2},{"quarter":"2005Q2","age":"Aged 45-54 Years","rate":2.3},{"quarter":"2005Q3","age":"Aged 45-54 Years","rate":2.25},{"quarter":"2005Q4","age":"Aged 45-54 Years","rate":2.2},
      {"quarter":"2006Q1","age":"Aged 45-54 Years","rate":2.2},{"quarter":"2006Q2","age":"Aged 45-54 Years","rate":2.2},{"quarter":"2006Q3","age":"Aged 45-54 Years","rate":2.1},{"quarter":"2006Q4","age":"Aged 45-54 Years","rate":2.05},
      {"quarter":"2007Q1","age":"Aged 45-54 Years","rate":1.9},{"quarter":"2007Q2","age":"Aged 45-54 Years","rate":1.75},{"quarter":"2007Q3","age":"Aged 45-54 Years","rate":1.6},{"quarter":"2007Q4","age":"Aged 45-54 Years","rate":1.6},
      {"quarter":"2008Q1","age":"Aged 45-54 Years","rate":2.0},{"quarter":"2008Q2","age":"Aged 45-54 Years","rate":2.1},{"quarter":"2008Q3","age":"Aged 45-54 Years","rate":2.3},{"quarter":"2008Q4","age":"Aged 45-54 Years","rate":2.8},
      {"quarter":"2009Q1","age":"Aged 45-54 Years","rate":3.2},{"quarter":"2009Q2","age":"Aged 45-54 Years","rate":3.5},{"quarter":"2009Q3","age":"Aged 45-54 Years","rate":3.7},{"quarter":"2009Q4","age":"Aged 45-54 Years","rate":3.75},
      {"quarter":"2010Q1","age":"Aged 45-54 Years","rate":3.75},{"quarter":"2010Q2","age":"Aged 45-54 Years","rate":3.8},{"quarter":"2010Q3","age":"Aged 45-54 Years","rate":3.9},{"quarter":"2010Q4","age":"Aged 45-54 Years","rate":3.9},
      {"quarter":"2011Q1","age":"Aged 45-54 Years","rate":3.95},{"quarter":"2011Q2","age":"Aged 45-54 Years","rate":4.0},{"quarter":"2011Q3","age":"Aged 45-54 Years","rate":4.0},{"quarter":"2011Q4","age":"Aged 45-54 Years","rate":4.05},
      {"quarter":"2012Q1","age":"Aged 45-54 Years","rate":4.1},{"quarter":"2012Q2","age":"Aged 45-54 Years","rate":4.2},{"quarter":"2012Q3","age":"Aged 45-54 Years","rate":4.6},{"quarter":"2012Q4","age":"Aged 45-54 Years","rate":4.3},
      {"quarter":"2013Q1","age":"Aged 45-54 Years","rate":4.2},{"quarter":"2013Q2","age":"Aged 45-54 Years","rate":4.0},{"quarter":"2013Q3","age":"Aged 45-54 Years","rate":4.0},{"quarter":"2013Q4","age":"Aged 45-54 Years","rate":3.9},
      {"quarter":"2014Q1","age":"Aged 45-54 Years","rate":3.8},{"quarter":"2014Q2","age":"Aged 45-54 Years","rate":3.75},{"quarter":"2014Q3","age":"Aged 45-54 Years","rate":3.6},{"quarter":"2014Q4","age":"Aged 45-54 Years","rate":3.5},
      {"quarter":"2015Q1","age":"Aged 45-54 Years","rate":3.4},{"quarter":"2015Q2","age":"Aged 45-54 Years","rate":3.35},{"quarter":"2015Q3","age":"Aged 45-54 Years","rate":3.3},{"quarter":"2015Q4","age":"Aged 45-54 Years","rate":3.3},
      {"quarter":"2016Q1","age":"Aged 45-54 Years","rate":3.25},{"quarter":"2016Q2","age":"Aged 45-54 Years","rate":3.2},{"quarter":"2016Q3","age":"Aged 45-54 Years","rate":2.9},{"quarter":"2016Q4","age":"Aged 45-54 Years","rate":2.8},
      {"quarter":"2017Q1","age":"Aged 45-54 Years","rate":2.7},{"quarter":"2017Q2","age":"Aged 45-54 Years","rate":2.8},{"quarter":"2017Q3","age":"Aged 45-54 Years","rate":2.75},{"quarter":"2017Q4","age":"Aged 45-54 Years","rate":2.7},
      {"quarter":"2018Q1","age":"Aged 45-54 Years","rate":2.6},{"quarter":"2018Q2","age":"Aged 45-54 Years","rate":2.5},{"quarter":"2018Q3","age":"Aged 45-54 Years","rate":2.45},{"quarter":"2018Q4","age":"Aged 45-54 Years","rate":2.6},
      {"quarter":"2019Q1","age":"Aged 45-54 Years","rate":2.6},{"quarter":"2019Q2","age":"Aged 45-54 Years","rate":2.55},{"quarter":"2019Q3","age":"Aged 45-54 Years","rate":2.45},{"quarter":"2019Q4","age":"Aged 45-54 Years","rate":2.5},
      {"quarter":"2020Q1","age":"Aged 45-54 Years","rate":2.6},{"quarter":"2020Q2","age":"Aged 45-54 Years","rate":2.75},{"quarter":"2020Q3","age":"Aged 45-54 Years","rate":2.85},{"quarter":"2020Q4","age":"Aged 45-54 Years","rate":2.9},
      {"quarter":"2021Q1","age":"Aged 45-54 Years","rate":2.8},{"quarter":"2021Q2","age":"Aged 45-54 Years","rate":2.5},{"quarter":"2021Q3","age":"Aged 45-54 Years","rate":2.2},{"quarter":"2021Q4","age":"Aged 45-54 Years","rate":2.1},
      {"quarter":"2022Q1","age":"Aged 45-54 Years","rate":2.1},{"quarter":"2022Q2","age":"Aged 45-54 Years","rate":2.1},{"quarter":"2022Q3","age":"Aged 45-54 Years","rate":2.1},{"quarter":"2022Q4","age":"Aged 45-54 Years","rate":2.15},
      {"quarter":"2023Q1","age":"Aged 45-54 Years","rate":2.2},{"quarter":"2023Q2","age":"Aged 45-54 Years","rate":2.3},{"quarter":"2023Q3","age":"Aged 45-54 Years","rate":2.45},{"quarter":"2023Q4","age":"Aged 45-54 Years","rate":2.6},
      {"quarter":"2024Q1","age":"Aged 45-54 Years","rate":2.8},{"quarter":"2024Q2","age":"Aged 45-54 Years","rate":2.9},{"quarter":"2024Q3","age":"Aged 45-54 Years","rate":3.0},{"quarter":"2024Q4","age":"Aged 45-54 Years","rate":3.0},
      {"quarter":"2025Q1","age":"Aged 45-54 Years","rate":3.2},{"quarter":"2025Q2","age":"Aged 45-54 Years","rate":3.3},{"quarter":"2025Q3","age":"Aged 45-54 Years","rate":3.4},{"quarter":"2025Q4","age":"Aged 45-54 Years","rate":3.45},
      {"quarter":"2026Q1","age":"Aged 45-54 Years","rate":3.5},{"quarter":"2026Q2","age":"Aged 45-54 Years","rate":3.5},

      {"quarter":"1986Q1","age":"Aged 55-64 Years","rate":1.3},{"quarter":"1986Q2","age":"Aged 55-64 Years","rate":1.4},{"quarter":"1986Q3","age":"Aged 55-64 Years","rate":1.3},{"quarter":"1986Q4","age":"Aged 55-64 Years","rate":1.8},
      {"quarter":"1987Q1","age":"Aged 55-64 Years","rate":2.1},{"quarter":"1987Q2","age":"Aged 55-64 Years","rate":2.2},{"quarter":"1987Q3","age":"Aged 55-64 Years","rate":2.1},{"quarter":"1987Q4","age":"Aged 55-64 Years","rate":1.9},
      {"quarter":"1988Q1","age":"Aged 55-64 Years","rate":2.0},{"quarter":"1988Q2","age":"Aged 55-64 Years","rate":2.4},{"quarter":"1988Q3","age":"Aged 55-64 Years","rate":2.9},{"quarter":"1988Q4","age":"Aged 55-64 Years","rate":3.4},
      {"quarter":"1989Q1","age":"Aged 55-64 Years","rate":3.9},{"quarter":"1989Q2","age":"Aged 55-64 Years","rate":4.1},{"quarter":"1989Q3","age":"Aged 55-64 Years","rate":4.0},{"quarter":"1989Q4","age":"Aged 55-64 Years","rate":3.9},
      {"quarter":"1990Q1","age":"Aged 55-64 Years","rate":4.6},{"quarter":"1990Q2","age":"Aged 55-64 Years","rate":4.9},{"quarter":"1990Q3","age":"Aged 55-64 Years","rate":5.1},{"quarter":"1990Q4","age":"Aged 55-64 Years","rate":5.4},
      {"quarter":"1991Q1","age":"Aged 55-64 Years","rate":5.5},{"quarter":"1991Q2","age":"Aged 55-64 Years","rate":5.7},{"quarter":"1991Q3","age":"Aged 55-64 Years","rate":5.9},{"quarter":"1991Q4","age":"Aged 55-64 Years","rate":5.3},
      {"quarter":"1992Q1","age":"Aged 55-64 Years","rate":5.8},{"quarter":"1992Q2","age":"Aged 55-64 Years","rate":6.3},{"quarter":"1992Q3","age":"Aged 55-64 Years","rate":6.6},{"quarter":"1992Q4","age":"Aged 55-64 Years","rate":7.3},
      {"quarter":"1993Q1","age":"Aged 55-64 Years","rate":6.4},{"quarter":"1993Q2","age":"Aged 55-64 Years","rate":5.7},{"quarter":"1993Q3","age":"Aged 55-64 Years","rate":5.6},{"quarter":"1993Q4","age":"Aged 55-64 Years","rate":5.6},
      {"quarter":"1994Q1","age":"Aged 55-64 Years","rate":5.75},{"quarter":"1994Q2","age":"Aged 55-64 Years","rate":5.0},{"quarter":"1994Q3","age":"Aged 55-64 Years","rate":4.7},{"quarter":"1994Q4","age":"Aged 55-64 Years","rate":4.3},
      {"quarter":"1995Q1","age":"Aged 55-64 Years","rate":3.9},{"quarter":"1995Q2","age":"Aged 55-64 Years","rate":3.5},{"quarter":"1995Q3","age":"Aged 55-64 Years","rate":3.2},{"quarter":"1995Q4","age":"Aged 55-64 Years","rate":3.3},
      {"quarter":"1996Q1","age":"Aged 55-64 Years","rate":3.4},{"quarter":"1996Q2","age":"Aged 55-64 Years","rate":3.6},{"quarter":"1996Q3","age":"Aged 55-64 Years","rate":3.8},{"quarter":"1996Q4","age":"Aged 55-64 Years","rate":4.2},
      {"quarter":"1997Q1","age":"Aged 55-64 Years","rate":4.5},{"quarter":"1997Q2","age":"Aged 55-64 Years","rate":4.2},{"quarter":"1997Q3","age":"Aged 55-64 Years","rate":4.3},{"quarter":"1997Q4","age":"Aged 55-64 Years","rate":4.6},
      {"quarter":"1998Q1","age":"Aged 55-64 Years","rate":4.9},{"quarter":"1998Q2","age":"Aged 55-64 Years","rate":5.0},{"quarter":"1998Q3","age":"Aged 55-64 Years","rate":5.1},{"quarter":"1998Q4","age":"Aged 55-64 Years","rate":5.4},
      {"quarter":"1999Q1","age":"Aged 55-64 Years","rate":5.75},{"quarter":"1999Q2","age":"Aged 55-64 Years","rate":4.2},{"quarter":"1999Q3","age":"Aged 55-64 Years","rate":6.2},{"quarter":"1999Q4","age":"Aged 55-64 Years","rate":4.8},
      {"quarter":"2000Q1","age":"Aged 55-64 Years","rate":4.9},{"quarter":"2000Q2","age":"Aged 55-64 Years","rate":4.8},{"quarter":"2000Q3","age":"Aged 55-64 Years","rate":5.1},{"quarter":"2000Q4","age":"Aged 55-64 Years","rate":4.8},
      {"quarter":"2001Q1","age":"Aged 55-64 Years","rate":4.0},{"quarter":"2001Q2","age":"Aged 55-64 Years","rate":3.75},{"quarter":"2001Q3","age":"Aged 55-64 Years","rate":4.1},{"quarter":"2001Q4","age":"Aged 55-64 Years","rate":3.5},
      {"quarter":"2002Q1","age":"Aged 55-64 Years","rate":3.0},{"quarter":"2002Q2","age":"Aged 55-64 Years","rate":3.6},{"quarter":"2002Q3","age":"Aged 55-64 Years","rate":3.3},{"quarter":"2002Q4","age":"Aged 55-64 Years","rate":3.3},
      {"quarter":"2003Q1","age":"Aged 55-64 Years","rate":4.0},{"quarter":"2003Q2","age":"Aged 55-64 Years","rate":4.0},{"quarter":"2003Q3","age":"Aged 55-64 Years","rate":3.6},{"quarter":"2003Q4","age":"Aged 55-64 Years","rate":3.55},
      {"quarter":"2004Q1","age":"Aged 55-64 Years","rate":3.3},{"quarter":"2004Q2","age":"Aged 55-64 Years","rate":2.9},{"quarter":"2004Q3","age":"Aged 55-64 Years","rate":2.7},{"quarter":"2004Q4","age":"Aged 55-64 Years","rate":2.65},
      {"quarter":"2005Q1","age":"Aged 55-64 Years","rate":2.3},{"quarter":"2005Q2","age":"Aged 55-64 Years","rate":2.1},{"quarter":"2005Q3","age":"Aged 55-64 Years","rate":2.1},{"quarter":"2005Q4","age":"Aged 55-64 Years","rate":2.4},
      {"quarter":"2006Q1","age":"Aged 55-64 Years","rate":2.6},{"quarter":"2006Q2","age":"Aged 55-64 Years","rate":2.0},{"quarter":"2006Q3","age":"Aged 55-64 Years","rate":2.2},{"quarter":"2006Q4","age":"Aged 55-64 Years","rate":1.7},
      {"quarter":"2007Q1","age":"Aged 55-64 Years","rate":1.7},{"quarter":"2007Q2","age":"Aged 55-64 Years","rate":1.5},{"quarter":"2007Q3","age":"Aged 55-64 Years","rate":1.25},{"quarter":"2007Q4","age":"Aged 55-64 Years","rate":1.4},
      {"quarter":"2008Q1","age":"Aged 55-64 Years","rate":1.75},{"quarter":"2008Q2","age":"Aged 55-64 Years","rate":2.2},{"quarter":"2008Q3","age":"Aged 55-64 Years","rate":2.2},{"quarter":"2008Q4","age":"Aged 55-64 Years","rate":2.6},
      {"quarter":"2009Q1","age":"Aged 55-64 Years","rate":3.0},{"quarter":"2009Q2","age":"Aged 55-64 Years","rate":2.9},{"quarter":"2009Q3","age":"Aged 55-64 Years","rate":3.0},{"quarter":"2009Q4","age":"Aged 55-64 Years","rate":3.3},
      {"quarter":"2010Q1","age":"Aged 55-64 Years","rate":3.4},{"quarter":"2010Q2","age":"Aged 55-64 Years","rate":3.1},{"quarter":"2010Q3","age":"Aged 55-64 Years","rate":3.5},{"quarter":"2010Q4","age":"Aged 55-64 Years","rate":3.9},
      {"quarter":"2011Q1","age":"Aged 55-64 Years","rate":3.5},{"quarter":"2011Q2","age":"Aged 55-64 Years","rate":3.1},{"quarter":"2011Q3","age":"Aged 55-64 Years","rate":3.3},{"quarter":"2011Q4","age":"Aged 55-64 Years","rate":3.75},
      {"quarter":"2012Q1","age":"Aged 55-64 Years","rate":3.9},{"quarter":"2012Q2","age":"Aged 55-64 Years","rate":3.8},{"quarter":"2012Q3","age":"Aged 55-64 Years","rate":4.3},{"quarter":"2012Q4","age":"Aged 55-64 Years","rate":4.0},
      {"quarter":"2013Q1","age":"Aged 55-64 Years","rate":3.8},{"quarter":"2013Q2","age":"Aged 55-64 Years","rate":3.75},{"quarter":"2013Q3","age":"Aged 55-64 Years","rate":4.0},{"quarter":"2013Q4","age":"Aged 55-64 Years","rate":3.5},
      {"quarter":"2014Q1","age":"Aged 55-64 Years","rate":3.4},{"quarter":"2014Q2","age":"Aged 55-64 Years","rate":3.5},{"quarter":"2014Q3","age":"Aged 55-64 Years","rate":2.9},{"quarter":"2014Q4","age":"Aged 55-64 Years","rate":3.3},
      {"quarter":"2015Q1","age":"Aged 55-64 Years","rate":3.7},{"quarter":"2015Q2","age":"Aged 55-64 Years","rate":3.3},{"quarter":"2015Q3","age":"Aged 55-64 Years","rate":3.3},{"quarter":"2015Q4","age":"Aged 55-64 Years","rate":3.4},
      {"quarter":"2016Q1","age":"Aged 55-64 Years","rate":3.1},{"quarter":"2016Q2","age":"Aged 55-64 Years","rate":3.2},{"quarter":"2016Q3","age":"Aged 55-64 Years","rate":3.3},{"quarter":"2016Q4","age":"Aged 55-64 Years","rate":3.1},
      {"quarter":"2017Q1","age":"Aged 55-64 Years","rate":2.9},{"quarter":"2017Q2","age":"Aged 55-64 Years","rate":3.0},{"quarter":"2017Q3","age":"Aged 55-64 Years","rate":2.8},{"quarter":"2017Q4","age":"Aged 55-64 Years","rate":2.8},
      {"quarter":"2018Q1","age":"Aged 55-64 Years","rate":2.75},{"quarter":"2018Q2","age":"Aged 55-64 Years","rate":2.6},{"quarter":"2018Q3","age":"Aged 55-64 Years","rate":2.3},{"quarter":"2018Q4","age":"Aged 55-64 Years","rate":2.5},
      {"quarter":"2019Q1","age":"Aged 55-64 Years","rate":2.8},{"quarter":"2019Q2","age":"Aged 55-64 Years","rate":2.9},{"quarter":"2019Q3","age":"Aged 55-64 Years","rate":2.75},{"quarter":"2019Q4","age":"Aged 55-64 Years","rate":2.8},
      {"quarter":"2020Q1","age":"Aged 55-64 Years","rate":2.6},{"quarter":"2020Q2","age":"Aged 55-64 Years","rate":2.8},{"quarter":"2020Q3","age":"Aged 55-64 Years","rate":3.7},{"quarter":"2020Q4","age":"Aged 55-64 Years","rate":2.7},
      {"quarter":"2021Q1","age":"Aged 55-64 Years","rate":3.0},{"quarter":"2021Q2","age":"Aged 55-64 Years","rate":2.45},{"quarter":"2021Q3","age":"Aged 55-64 Years","rate":1.95},{"quarter":"2021Q4","age":"Aged 55-64 Years","rate":1.9},
      {"quarter":"2022Q1","age":"Aged 55-64 Years","rate":1.95},{"quarter":"2022Q2","age":"Aged 55-64 Years","rate":2.0},{"quarter":"2022Q3","age":"Aged 55-64 Years","rate":2.0},{"quarter":"2022Q4","age":"Aged 55-64 Years","rate":2.1},
      {"quarter":"2023Q1","age":"Aged 55-64 Years","rate":2.3},{"quarter":"2023Q2","age":"Aged 55-64 Years","rate":2.1},{"quarter":"2023Q3","age":"Aged 55-64 Years","rate":2.45},{"quarter":"2023Q4","age":"Aged 55-64 Years","rate":2.35},
      {"quarter":"2024Q1","age":"Aged 55-64 Years","rate":2.7},{"quarter":"2024Q2","age":"Aged 55-64 Years","rate":3.2},{"quarter":"2024Q3","age":"Aged 55-64 Years","rate":3.3},{"quarter":"2024Q4","age":"Aged 55-64 Years","rate":3.3},
      {"quarter":"2025Q1","age":"Aged 55-64 Years","rate":3.25},{"quarter":"2025Q2","age":"Aged 55-64 Years","rate":3.1},{"quarter":"2025Q3","age":"Aged 55-64 Years","rate":3.1},{"quarter":"2025Q4","age":"Aged 55-64 Years","rate":3.1},
      {"quarter":"2026Q1","age":"Aged 55-64 Years","rate":3.4},{"quarter":"2026Q2","age":"Aged 55-64 Years","rate":2.9},

      {"quarter":"1986Q1","age":"Aged 65 Years and Over","rate":3.6},{"quarter":"1986Q2","age":"Aged 65 Years and Over","rate":1.5},{"quarter":"1986Q3","age":"Aged 65 Years and Over","rate":0.2},{"quarter":"1986Q4","age":"Aged 65 Years and Over","rate":0.6},
      {"quarter":"1987Q1","age":"Aged 65 Years and Over","rate":1.0},{"quarter":"1987Q2","age":"Aged 65 Years and Over","rate":1.8},{"quarter":"1987Q3","age":"Aged 65 Years and Over","rate":2.2},{"quarter":"1987Q4","age":"Aged 65 Years and Over","rate":0.4},
      {"quarter":"1988Q1","age":"Aged 65 Years and Over","rate":1.6},{"quarter":"1988Q2","age":"Aged 65 Years and Over","rate":1.9},{"quarter":"1988Q3","age":"Aged 65 Years and Over","rate":2.2},{"quarter":"1988Q4","age":"Aged 65 Years and Over","rate":1.6},
      {"quarter":"1989Q1","age":"Aged 65 Years and Over","rate":2.5},{"quarter":"1989Q2","age":"Aged 65 Years and Over","rate":2.9},{"quarter":"1989Q3","age":"Aged 65 Years and Over","rate":3.6},{"quarter":"1989Q4","age":"Aged 65 Years and Over","rate":4.3},
      {"quarter":"1990Q1","age":"Aged 65 Years and Over","rate":2.0},{"quarter":"1990Q2","age":"Aged 65 Years and Over","rate":2.9},{"quarter":"1990Q3","age":"Aged 65 Years and Over","rate":2.0},{"quarter":"1990Q4","age":"Aged 65 Years and Over","rate":2.5},
      {"quarter":"1991Q1","age":"Aged 65 Years and Over","rate":3.3},{"quarter":"1991Q2","age":"Aged 65 Years and Over","rate":2.6},{"quarter":"1991Q3","age":"Aged 65 Years and Over","rate":1.8},{"quarter":"1991Q4","age":"Aged 65 Years and Over","rate":1.6},
      {"quarter":"1992Q1","age":"Aged 65 Years and Over","rate":1.6},{"quarter":"1992Q2","age":"Aged 65 Years and Over","rate":1.4},{"quarter":"1992Q3","age":"Aged 65 Years and Over","rate":0.9},{"quarter":"1992Q4","age":"Aged 65 Years and Over","rate":1.4},
      {"quarter":"1993Q1","age":"Aged 65 Years and Over","rate":4.0},{"quarter":"1993Q2","age":"Aged 65 Years and Over","rate":0.9},{"quarter":"1993Q3","age":"Aged 65 Years and Over","rate":1.6},{"quarter":"1993Q4","age":"Aged 65 Years and Over","rate":0.5},
      {"quarter":"1994Q1","age":"Aged 65 Years and Over","rate":1.3},{"quarter":"1994Q2","age":"Aged 65 Years and Over","rate":2.6},{"quarter":"1994Q3","age":"Aged 65 Years and Over","rate":1.9},{"quarter":"1994Q4","age":"Aged 65 Years and Over","rate":1.7},
      {"quarter":"1995Q1","age":"Aged 65 Years and Over","rate":1.3},{"quarter":"1995Q2","age":"Aged 65 Years and Over","rate":1.0},{"quarter":"1995Q3","age":"Aged 65 Years and Over","rate":0.9},{"quarter":"1995Q4","age":"Aged 65 Years and Over","rate":3.0},
      {"quarter":"1996Q1","age":"Aged 65 Years and Over","rate":1.0},{"quarter":"1996Q2","age":"Aged 65 Years and Over","rate":1.1},{"quarter":"1996Q3","age":"Aged 65 Years and Over","rate":0.9},{"quarter":"1996Q4","age":"Aged 65 Years and Over","rate":1.5},
      {"quarter":"1997Q1","age":"Aged 65 Years and Over","rate":0.8},{"quarter":"1997Q2","age":"Aged 65 Years and Over","rate":1.2},{"quarter":"1997Q3","age":"Aged 65 Years and Over","rate":0.6},{"quarter":"1997Q4","age":"Aged 65 Years and Over","rate":0.8},
      {"quarter":"1998Q1","age":"Aged 65 Years and Over","rate":1.0},{"quarter":"1998Q2","age":"Aged 65 Years and Over","rate":1.0},{"quarter":"1998Q3","age":"Aged 65 Years and Over","rate":0.8},{"quarter":"1998Q4","age":"Aged 65 Years and Over","rate":1.4},
      {"quarter":"1999Q1","age":"Aged 65 Years and Over","rate":1.2},{"quarter":"1999Q2","age":"Aged 65 Years and Over","rate":1.5},{"quarter":"1999Q3","age":"Aged 65 Years and Over","rate":2.0},{"quarter":"1999Q4","age":"Aged 65 Years and Over","rate":1.6},
      {"quarter":"2000Q1","age":"Aged 65 Years and Over","rate":1.8},{"quarter":"2000Q2","age":"Aged 65 Years and Over","rate":1.5},{"quarter":"2000Q3","age":"Aged 65 Years and Over","rate":2.2},{"quarter":"2000Q4","age":"Aged 65 Years and Over","rate":0.2},
      {"quarter":"2001Q1","age":"Aged 65 Years and Over","rate":1.1},{"quarter":"2001Q2","age":"Aged 65 Years and Over","rate":0.9},{"quarter":"2001Q3","age":"Aged 65 Years and Over","rate":1.2},{"quarter":"2001Q4","age":"Aged 65 Years and Over","rate":1.9},
      {"quarter":"2002Q1","age":"Aged 65 Years and Over","rate":1.6},{"quarter":"2002Q2","age":"Aged 65 Years and Over","rate":1.8},{"quarter":"2002Q3","age":"Aged 65 Years and Over","rate":1.5},{"quarter":"2002Q4","age":"Aged 65 Years and Over","rate":1.2},
      {"quarter":"2003Q1","age":"Aged 65 Years and Over","rate":1.0},{"quarter":"2003Q2","age":"Aged 65 Years and Over","rate":1.3},{"quarter":"2003Q3","age":"Aged 65 Years and Over","rate":1.1},{"quarter":"2003Q4","age":"Aged 65 Years and Over","rate":1.0},
      {"quarter":"2004Q1","age":"Aged 65 Years and Over","rate":1.0},{"quarter":"2004Q2","age":"Aged 65 Years and Over","rate":0.85},{"quarter":"2004Q3","age":"Aged 65 Years and Over","rate":1.1},{"quarter":"2004Q4","age":"Aged 65 Years and Over","rate":0.9},
      {"quarter":"2005Q1","age":"Aged 65 Years and Over","rate":1.2},{"quarter":"2005Q2","age":"Aged 65 Years and Over","rate":1.7},{"quarter":"2005Q3","age":"Aged 65 Years and Over","rate":1.5},{"quarter":"2005Q4","age":"Aged 65 Years and Over","rate":1.9},
      {"quarter":"2006Q1","age":"Aged 65 Years and Over","rate":2.8},{"quarter":"2006Q2","age":"Aged 65 Years and Over","rate":1.5},{"quarter":"2006Q3","age":"Aged 65 Years and Over","rate":2.1},{"quarter":"2006Q4","age":"Aged 65 Years and Over","rate":1.4},
      {"quarter":"2007Q1","age":"Aged 65 Years and Over","rate":1.3},{"quarter":"2007Q2","age":"Aged 65 Years and Over","rate":0.7},{"quarter":"2007Q3","age":"Aged 65 Years and Over","rate":0.9},{"quarter":"2007Q4","age":"Aged 65 Years and Over","rate":1.0},
      {"quarter":"2008Q1","age":"Aged 65 Years and Over","rate":1.0},{"quarter":"2008Q2","age":"Aged 65 Years and Over","rate":1.4},{"quarter":"2008Q3","age":"Aged 65 Years and Over","rate":0.6},{"quarter":"2008Q4","age":"Aged 65 Years and Over","rate":1.1},
      {"quarter":"2009Q1","age":"Aged 65 Years and Over","rate":1.4},{"quarter":"2009Q2","age":"Aged 65 Years and Over","rate":1.5},{"quarter":"2009Q3","age":"Aged 65 Years and Over","rate":2.3},{"quarter":"2009Q4","age":"Aged 65 Years and Over","rate":0.9},
      {"quarter":"2010Q1","age":"Aged 65 Years and Over","rate":1.75},{"quarter":"2010Q2","age":"Aged 65 Years and Over","rate":1.5},{"quarter":"2010Q3","age":"Aged 65 Years and Over","rate":1.8},{"quarter":"2010Q4","age":"Aged 65 Years and Over","rate":1.6},
      {"quarter":"2011Q1","age":"Aged 65 Years and Over","rate":1.2},{"quarter":"2011Q2","age":"Aged 65 Years and Over","rate":1.0},{"quarter":"2011Q3","age":"Aged 65 Years and Over","rate":1.5},{"quarter":"2011Q4","age":"Aged 65 Years and Over","rate":2.0},
      {"quarter":"2012Q1","age":"Aged 65 Years and Over","rate":1.5},{"quarter":"2012Q2","age":"Aged 65 Years and Over","rate":1.5},{"quarter":"2012Q3","age":"Aged 65 Years and Over","rate":1.8},{"quarter":"2012Q4","age":"Aged 65 Years and Over","rate":1.7},
      {"quarter":"2013Q1","age":"Aged 65 Years and Over","rate":1.6},{"quarter":"2013Q2","age":"Aged 65 Years and Over","rate":1.6},{"quarter":"2013Q3","age":"Aged 65 Years and Over","rate":1.9},{"quarter":"2013Q4","age":"Aged 65 Years and Over","rate":1.5},
      {"quarter":"2014Q1","age":"Aged 65 Years and Over","rate":2.2},{"quarter":"2014Q2","age":"Aged 65 Years and Over","rate":1.6},{"quarter":"2014Q3","age":"Aged 65 Years and Over","rate":1.0},{"quarter":"2014Q4","age":"Aged 65 Years and Over","rate":1.4},
      {"quarter":"2015Q1","age":"Aged 65 Years and Over","rate":1.75},{"quarter":"2015Q2","age":"Aged 65 Years and Over","rate":1.4},{"quarter":"2015Q3","age":"Aged 65 Years and Over","rate":1.7},{"quarter":"2015Q4","age":"Aged 65 Years and Over","rate":1.5},
      {"quarter":"2016Q1","age":"Aged 65 Years and Over","rate":1.4},{"quarter":"2016Q2","age":"Aged 65 Years and Over","rate":1.35},{"quarter":"2016Q3","age":"Aged 65 Years and Over","rate":1.3},{"quarter":"2016Q4","age":"Aged 65 Years and Over","rate":0.8},
      {"quarter":"2017Q1","age":"Aged 65 Years and Over","rate":1.3},{"quarter":"2017Q2","age":"Aged 65 Years and Over","rate":1.4},{"quarter":"2017Q3","age":"Aged 65 Years and Over","rate":1.0},{"quarter":"2017Q4","age":"Aged 65 Years and Over","rate":1.2},
      {"quarter":"2018Q1","age":"Aged 65 Years and Over","rate":1.6},{"quarter":"2018Q2","age":"Aged 65 Years and Over","rate":1.8},{"quarter":"2018Q3","age":"Aged 65 Years and Over","rate":1.9},{"quarter":"2018Q4","age":"Aged 65 Years and Over","rate":1.6},
      {"quarter":"2019Q1","age":"Aged 65 Years and Over","rate":1.4},{"quarter":"2019Q2","age":"Aged 65 Years and Over","rate":1.5},{"quarter":"2019Q3","age":"Aged 65 Years and Over","rate":1.7},{"quarter":"2019Q4","age":"Aged 65 Years and Over","rate":1.6},
      {"quarter":"2020Q1","age":"Aged 65 Years and Over","rate":1.8},{"quarter":"2020Q2","age":"Aged 65 Years and Over","rate":1.9},{"quarter":"2020Q3","age":"Aged 65 Years and Over","rate":1.6},{"quarter":"2020Q4","age":"Aged 65 Years and Over","rate":2.1},
      {"quarter":"2021Q1","age":"Aged 65 Years and Over","rate":1.7},{"quarter":"2021Q2","age":"Aged 65 Years and Over","rate":1.0},{"quarter":"2021Q3","age":"Aged 65 Years and Over","rate":0.9},{"quarter":"2021Q4","age":"Aged 65 Years and Over","rate":0.95},
      {"quarter":"2022Q1","age":"Aged 65 Years and Over","rate":1.0},{"quarter":"2022Q2","age":"Aged 65 Years and Over","rate":1.3},{"quarter":"2022Q3","age":"Aged 65 Years and Over","rate":1.1},{"quarter":"2022Q4","age":"Aged 65 Years and Over","rate":1.0},
      {"quarter":"2023Q1","age":"Aged 65 Years and Over","rate":1.5},{"quarter":"2023Q2","age":"Aged 65 Years and Over","rate":1.5},{"quarter":"2023Q3","age":"Aged 65 Years and Over","rate":1.8},{"quarter":"2023Q4","age":"Aged 65 Years and Over","rate":2.0},
      {"quarter":"2024Q1","age":"Aged 65 Years and Over","rate":2.2},{"quarter":"2024Q2","age":"Aged 65 Years and Over","rate":2.3},{"quarter":"2024Q3","age":"Aged 65 Years and Over","rate":2.4},{"quarter":"2024Q4","age":"Aged 65 Years and Over","rate":1.8},
      {"quarter":"2025Q1","age":"Aged 65 Years and Over","rate":1.75},{"quarter":"2025Q2","age":"Aged 65 Years and Over","rate":1.6},{"quarter":"2025Q3","age":"Aged 65 Years and Over","rate":1.7},{"quarter":"2025Q4","age":"Aged 65 Years and Over","rate":1.8},
      {"quarter":"2026Q1","age":"Aged 65 Years and Over","rate":1.7},{"quarter":"2026Q2","age":"Aged 65 Years and Over","rate":1.4}
    ]
  },
  "mark": {"type": "line", "strokeWidth": 3.5, "interpolate": "linear"},
  "encoding": {
    "x": {
      "field": "quarter",
      "type": "ordinal",
      "sort": null,
      "scale": {"type": "point", "padding": 0.35},
      "axis": {
        "title": null,
        "values": ["1986Q1","1988Q3","1991Q1","1993Q3","1996Q1","1998Q3","2001Q1","2003Q3","2006Q1","2008Q3","2011Q1","2013Q3","2016Q1","2018Q3","2021Q1","2023Q3","2026Q1"],
        "labelAngle": -90,
        "labelFontSize": 16,
        "labelColor": "#1a1a1a",
        "labelPadding": 8,
        "tickSize": 5,
        "tickColor": "#d4d4d4",
        "domainColor": "#d4d4d4",
        "domainWidth": 1.5
      }
    },
    "y": {
      "field": "rate",
      "type": "quantitative",
      "scale": {"domain": [0, 22]},
      "axis": {
        "title": null,
        "values": [0, 3, 6, 9, 12, 15, 18, 21],
        "grid": false,
        "labelFontSize": 17,
        "labelColor": "#1a1a1a",
        "labelPadding": 13,
        "tickSize": 5,
        "tickColor": "#d4d4d4",
        "domainColor": "#d4d4d4",
        "domainWidth": 1.5
      }
    },
    "color": {
      "field": "age",
      "type": "nominal",
      "sort": null,
      "scale": {
        "domain": ["Aged 15-24 Years", "Aged 25-34 Years", "Aged 35-44 Years", "Aged 45-54 Years", "Aged 55-64 Years", "Aged 65 Years and Over"],
        "range": ["#f9a8a2", "#a6f0cb", "#72e4a4", "#1fd46f", "#2b7a4b", "#1c4631"]
      },
      "legend": {
        "title": null,
        "orient": "none",
        "direction": "horizontal",
        "legendX": 36.5,
        "legendY": 402,
        "columns": 2,
        "columnPadding": 185,
        "rowPadding": -1.5,
        "padding": 0,
        "symbolType": "M-2,0H2",
        "symbolStrokeWidth": 4,
        "symbolSize": 289,
        "labelFontSize": 18,
        "labelLimit": 300,
        "labelColor": "#1a1a1a",
        "labelOffset": 12.5
      }
    }
  }
}
